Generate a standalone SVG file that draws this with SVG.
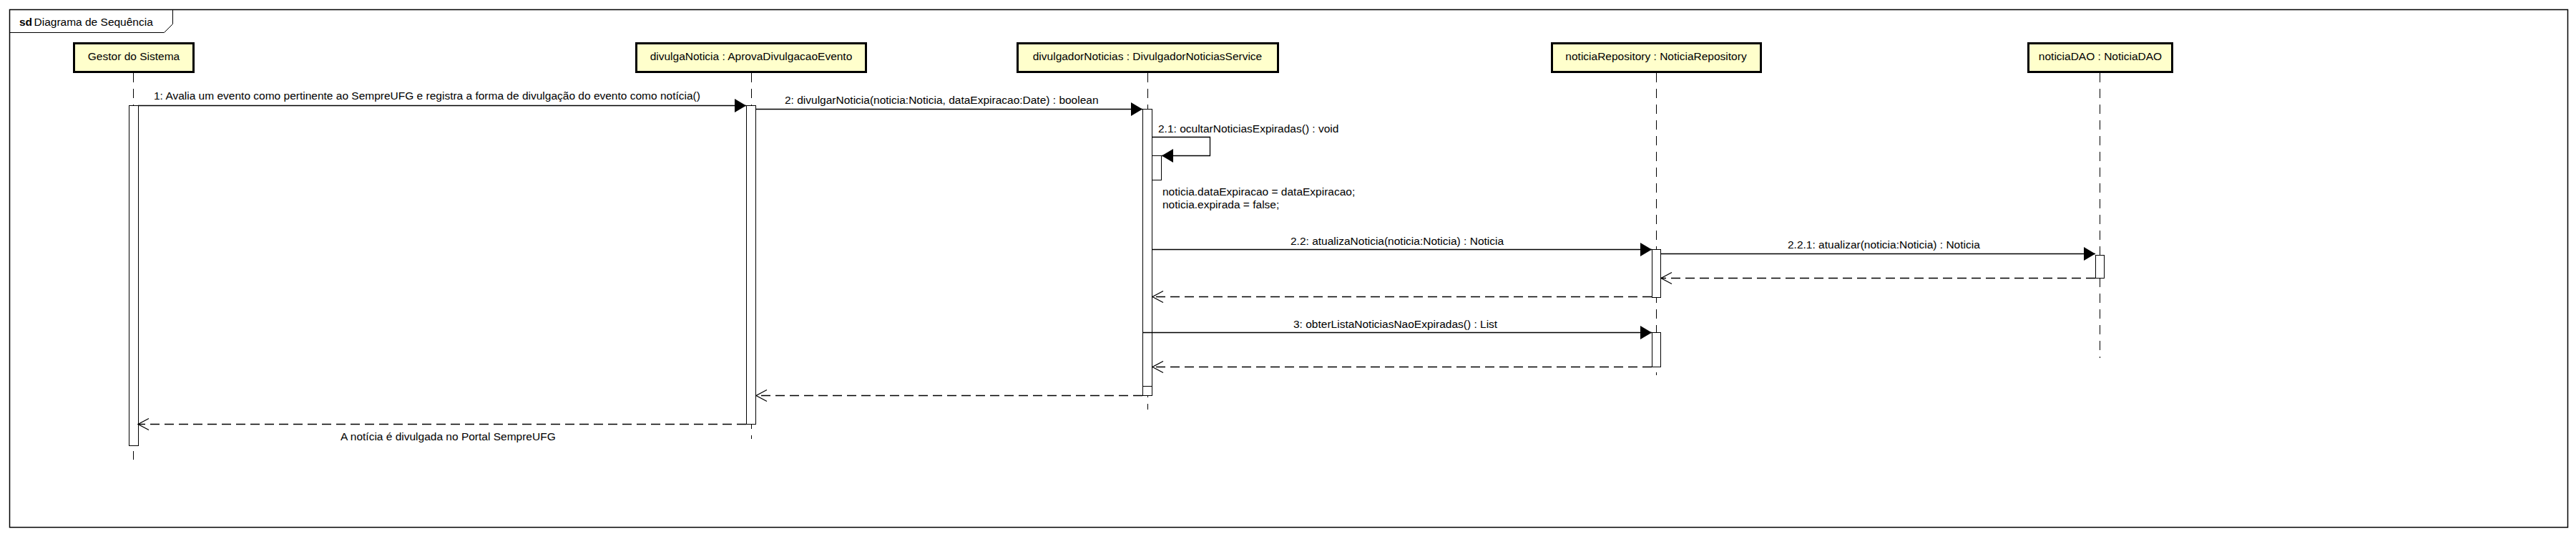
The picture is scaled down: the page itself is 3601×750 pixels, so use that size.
<svg xmlns="http://www.w3.org/2000/svg" width="3601" height="750" viewBox="0 0 3601 750">
<style>
text{font-family:"Liberation Sans",Arial,sans-serif;font-size:15.5px;fill:#000}
.hdr{fill:#ffffcc;stroke:#000;stroke-width:3}
.ll{stroke:#000;stroke-width:1;stroke-dasharray:13,9;fill:none}
.act{fill:#fff;stroke:#000;stroke-width:1}
.msg{stroke:#000;stroke-width:1.3;fill:none}
.ret{stroke:#000;stroke-width:1.3;fill:none;stroke-dasharray:13,7}
.mid{text-anchor:middle}
</style>
<defs>
<marker id="fill" markerUnits="userSpaceOnUse" markerWidth="17" markerHeight="19" viewBox="0 0 17 19" refX="16" refY="9.5" orient="auto">
<path d="M0,0 L16,9.5 L0,19 z" fill="#000" stroke="none"/>
</marker>
<marker id="open" markerUnits="userSpaceOnUse" markerWidth="18" markerHeight="20" viewBox="0 0 18 20" refX="16" refY="10" orient="auto">
<path d="M1,2 L16,10 L1,18" fill="none" stroke="#000" stroke-width="1.3" stroke-dasharray="none"/>
</marker>
</defs>
<rect width="3601" height="750" fill="#fff"/>
<g id="frame">
<rect x="13.5" y="13.5" width="3576" height="723" fill="none" stroke="#000" stroke-width="1.5"/>
<path d="M13.5,45.5 L229.5,45.5 L241.5,33.5 L241.5,13.5" fill="none" stroke="#000" stroke-width="1"/>
<text x="27" y="36"><tspan font-weight="bold">sd</tspan><tspan x="47.5">Diagrama de Sequência</tspan></text>
</g>
<g id="lifelines">
<line class="ll" x1="186.5" y1="102" x2="186.5" y2="642"/>
<line class="ll" x1="1050.5" y1="102" x2="1050.5" y2="613"/>
<line class="ll" x1="1604.5" y1="102" x2="1604.5" y2="572"/>
<line class="ll" x1="2315.5" y1="102" x2="2315.5" y2="524"/>
<line class="ll" x1="2935.5" y1="102" x2="2935.5" y2="500"/>
</g>
<g id="gestor">
<rect class="hdr" x="103.5" y="60.5" width="167" height="40"/>
<text class="mid" x="187" y="84">Gestor do Sistema</text>
<rect class="act" x="180.5" y="147.5" width="13" height="475"/>
</g>
<g id="divulgaNoticia">
<rect class="hdr" x="889.5" y="60.5" width="321" height="40"/>
<text class="mid" x="1050" y="84">divulgaNoticia : AprovaDivulgacaoEvento</text>
<rect class="act" x="1043.5" y="147.5" width="13" height="445"/>
</g>
<g id="divulgadorNoticias">
<rect class="hdr" x="1422.5" y="60.5" width="364" height="40"/>
<text class="mid" x="1604" y="84">divulgadorNoticias : DivulgadorNoticiasService</text>
<rect class="act" x="1597.5" y="152.5" width="13" height="400"/>
<rect class="act" x="1597.5" y="464.5" width="13" height="75"/>
<rect class="act" x="1610.5" y="217.5" width="13" height="34"/>
<text x="1625" y="273">noticia.dataExpiracao = dataExpiracao;</text>
<text x="1625" y="291">noticia.expirada = false;</text>
</g>
<g id="noticiaRepository">
<rect class="hdr" x="2169.5" y="60.5" width="292" height="40"/>
<text class="mid" x="2315" y="84">noticiaRepository : NoticiaRepository</text>
<rect class="act" x="2309.5" y="348.5" width="12" height="67"/>
<rect class="act" x="2309.5" y="464.5" width="12" height="48"/>
</g>
<g id="noticiaDAO">
<rect class="hdr" x="2835.5" y="60.5" width="201" height="40"/>
<text class="mid" x="2936" y="84">noticiaDAO : NoticiaDAO</text>
<rect class="act" x="2929.5" y="356.5" width="12" height="32"/>
</g>
<g id="connectors">
<line class="msg" x1="193" y1="147.5" x2="1043" y2="147.5" marker-end="url(#fill)"/>
<text x="215" y="139">1: Avalia um evento como pertinente ao SempreUFG e registra a forma de divulgação do evento como notícia()</text>
<line class="msg" x1="1057" y1="152.5" x2="1597" y2="152.5" marker-end="url(#fill)"/>
<text x="1097" y="145">2: divulgarNoticia(noticia:Noticia, dataExpiracao:Date) : boolean</text>
<polyline class="msg" points="1611,191.5 1691.5,191.5 1691.5,217.5 1624,217.5" marker-end="url(#fill)"/>
<text x="1619" y="185">2.1: ocultarNoticiasExpiradas() : void</text>
<line class="msg" x1="1611" y1="348.5" x2="2309" y2="348.5" marker-end="url(#fill)"/>
<text x="1804" y="342">2.2: atualizaNoticia(noticia:Noticia) : Noticia</text>
<line class="msg" x1="2322" y1="354.5" x2="2929" y2="354.5" marker-end="url(#fill)"/>
<text x="2499" y="347">2.2.1: atualizar(noticia:Noticia) : Noticia</text>
<line class="ret" x1="2929" y1="388.5" x2="2322" y2="388.5" marker-end="url(#open)"/>
<line class="ret" x1="2309" y1="414.5" x2="1611" y2="414.5" marker-end="url(#open)"/>
<line class="msg" x1="1597" y1="464.5" x2="2309" y2="464.5" marker-end="url(#fill)"/>
<text x="1808" y="458">3: obterListaNoticiasNaoExpiradas() : List</text>
<line class="ret" x1="2309" y1="512.5" x2="1611" y2="512.5" marker-end="url(#open)"/>
<line class="ret" x1="1597" y1="552.5" x2="1057" y2="552.5" marker-end="url(#open)"/>
<line class="ret" x1="1043" y1="592.5" x2="193" y2="592.5" marker-end="url(#open)"/>
<text x="476" y="615">A notícia é divulgada no Portal SempreUFG</text>
</g>
</svg>
